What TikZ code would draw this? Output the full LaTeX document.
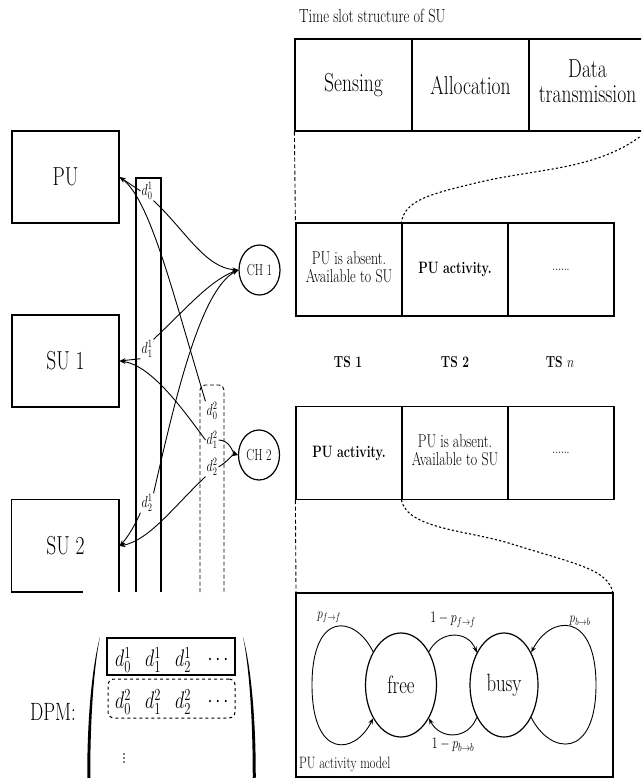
\RequirePackage{fix-cm}
\documentclass[tikz,border=0pt]{standalone}
\usepackage{fontspec}
\usepackage{graphicx}
\usetikzlibrary{arrows.meta,shapes.geometric}
\newcommand{\hs}[1]{\scalebox{0.75}[1]{#1}}
\newcommand{\fsz}[1]{\fontsize{#1}{#1}\selectfont}
\begin{document}
\begin{tikzpicture}[x=1pt,y=-1pt,
  bx/.style={draw,line width=1.2pt,inner sep=0pt,minimum width=107,minimum height=92},
  cellbox/.style={draw,line width=1.2pt,inner sep=0pt,minimum width=117,minimum height=92},
  tsbox/.style={draw,line width=1.2pt,inner sep=0pt,minimum width=106,minimum height=93},
  dl/.style={inner sep=1pt},
  conn/.style={line width=0.9pt,-{Stealth[length=6pt,width=4.5pt]}},
  dsh/.style={line width=0.9pt,dash pattern=on 4pt off 2.5pt},
  dts/.style={line width=1.1pt,dash pattern=on 2.2pt off 2.2pt},
  st/.style={draw,ellipse,line width=1.2pt,inner sep=0pt},
]
\useasboundingbox (0,0) rectangle (641,778);
\clip (0,0) rectangle (641,778);

% ---------- left part ----------
\node[bx] (PU) at (65.5,177) {\hs{\fsz{26}PU}};
\node[bx] (SU1) at (65.5,361) {\hs{\fsz{26}SU 1}};
\node[bx,draw=none] (SU2) at (65.5,546) {\hs{\fsz{26}SU 2}};
\draw[line width=1.2pt] (83,592) -| (SU2.north west) -| (119,592);

\draw[line width=1.2pt] (136,592) |- (161,178) -- (161,592);
\draw[dsh,rounded corners=5pt] (200,592) |- (224,385) -- (224,592);

\node[dl] (d01) at (147,191) {\hs{\fsz{16}$d_0^1$}};
\node[dl] (d11) at (147,349) {\hs{\fsz{16}$d_1^1$}};
\node[dl] (d21) at (147,503) {\hs{\fsz{16}$d_2^1$}};
\node[dl] (d02) at (212,411) {\hs{\fsz{16}$d_0^2$}};
\node[dl] (d12) at (212,440) {\hs{\fsz{16}$d_1^2$}};
\node[dl] (d22) at (212,467) {\hs{\fsz{16}$d_2^2$}};

\node[st,minimum width=41,minimum height=50] (ch1) at (259.5,270) {\hs{\fsz{16}CH 1}};
\node[st,minimum width=41,minimum height=50] (ch2) at (259,455) {\hs{\fsz{16}CH 2}};

\draw[conn] (d01.west) -- (PU.east);
\draw[conn] (d02.north west) .. controls (172,290) and (150,200) .. (PU.east);
\draw[conn] (d11.south west) -- (SU1.east);
\draw[conn] (d12.west) .. controls (180,405) and (150,365) .. (SU1.east);
\draw[conn] (d21.south west) .. controls (135,525) and (128,537) .. (SU2.east);
\draw[conn] (d22.south west) .. controls (175,505) and (150,540) .. (SU2.east);
\draw[conn] (d01.south east) .. controls (185,230) and (205,268) .. (ch1.west);
\draw[conn] (d11.north east) .. controls (185,310) and (210,280) .. (ch1.west);
\draw[conn] (d21.north east) .. controls (175,400) and (200,290) .. (ch1.west);
\draw[conn] (d12.east) .. controls (230,440) and (232,452) .. (ch2.west);
\draw[conn] (d22.east) .. controls (230,460) and (232,454) .. (ch2.west);

% ---------- DPM ----------
\node (dpm) at (53,712) {\hs{\fsz{25}DPM:}};
\node[draw,line width=1.2pt,minimum width=128,minimum height=37,inner sep=0] (row1) at (171,656.5) {};
\node[draw,dashed,rounded corners=6pt,line width=1pt,minimum width=127,minimum height=39,inner sep=0] (row2) at (171.5,698.5) {};
\node (m10) at (123,660) {\hs{\fsz{24}$d_0^1$}};
\node (m11) at (153,660) {\hs{\fsz{24}$d_1^1$}};
\node (m12) at (183,660) {\hs{\fsz{24}$d_2^1$}};
\node (m13) at (218,660) {\hs{\fsz{24}$\cdots$}};
\node (m20) at (123,702) {\hs{\fsz{24}$d_0^2$}};
\node (m21) at (153,702) {\hs{\fsz{24}$d_1^2$}};
\node (m22) at (183,702) {\hs{\fsz{24}$d_2^2$}};
\node (m23) at (218,702) {\hs{\fsz{24}$\cdots$}};
\node[inner sep=0] (m30) at (124,756) {\hs{\fsz{24}$\vdots$}};
\fill (100,637) .. controls (83,700) and (83,850) .. (100,913)
      .. controls (87,850) and (87,700) .. (100,637) -- cycle;
\fill (243,637) .. controls (260,700) and (260,850) .. (243,913)
      .. controls (256,850) and (256,700) .. (243,637) -- cycle;

% ---------- right part ----------
\node[anchor=west,inner sep=0] (ttl) at (299,16) {\hs{\fsz{19}Time slot structure of SU}};
\node[cellbox] (sen) at (353.5,85) {\hs{\fsz{26}Sensing}};
\node[cellbox] (alc) at (470.5,85) {\hs{\fsz{26}Allocation}};
\node[cellbox] (dat) at (587.5,85) {\hs{\fontsize{26}{25}\selectfont\begin{tabular}{@{}c@{}}Data\\transmission\end{tabular}}};

\node[tsbox] (t11) at (349,269.5) {\hs{\fontsize{18.5}{17}\selectfont\begin{tabular}{@{}c@{}}PU is absent.\\Available to SU\end{tabular}}};
\node[tsbox] (t12) at (455,269.5) {\hs{\fsz{16.5}\bfseries PU activity.}};
\node[tsbox] (t13) at (561,269.5) {\hs{\fsz{14}......}};

\node (ts1) at (348,362) {\hs{\fsz{16}\bfseries TS 1}};
\node (ts2) at (455,362) {\hs{\fsz{16}\bfseries TS 2}};
\node (tsn) at (560,362) {\hs{\fsz{16}\bfseries TS $n$}};

\node[tsbox] (t21) at (349,453) {\hs{\fsz{16.5}\bfseries PU activity.}};
\node[tsbox] (t22) at (455,453) {\hs{\fontsize{18.5}{17}\selectfont\begin{tabular}{@{}c@{}}PU is absent.\\Available to SU\end{tabular}}};
\node[tsbox] (t23) at (561,453) {\hs{\fsz{14}......}};

\draw[dsh] (sen.south west) -- (t11.north west);
\draw[dts] (dat.south east) .. controls (600,170) and (540,168) .. (480,182)
      .. controls (430,194) and (405,200) .. (t12.north west);
\draw[dsh] (t21.south west) -- (296,593);
\draw[dts] (t22.south west) .. controls (408,530) and (470,530) .. (515,545)
      .. controls (580,565) and (608,570) .. (613,593);

\node[draw,line width=1.2pt,minimum width=317,minimum height=184,inner sep=0] (mod) at (454.5,685) {};
\node[anchor=base west,inner sep=0] (modl) at (299,768) {\hs{\fsz{16.5}PU activity model}};

\node[st,minimum width=71,minimum height=104] (free) at (401,685) {\hs{\fsz{25}free}};
\node[st,minimum width=68,minimum height=104] (busy) at (504,685) {\hs{\fsz{25}busy}};

\draw[conn] (free.130) .. controls (355,615) and (312,610) .. (312,685)
      .. controls (312,760) and (355,755) .. (free.230);
\draw[conn] (busy.310) .. controls (550,755) and (596,760) .. (596,685)
      .. controls (596,610) and (550,615) .. (busy.50);
\draw[conn] (free.50) .. controls (440,630) and (468,630) .. (busy.130);
\draw[conn] (busy.230) .. controls (468,740) and (440,740) .. (free.310);

\node (pff) at (329,617) {\hs{\fsz{15}$p_{f\to f}$}};
\node (pbb) at (580,621) {\hs{\fsz{15}$p_{b\to b}$}};
\node (lff) at (453,620) {\hs{\fsz{16}$1-p_{f\to f}$}};
\node (lbb) at (453,745) {\hs{\fsz{16}$1-p_{b\to b}$}};
\end{tikzpicture}
\end{document}
